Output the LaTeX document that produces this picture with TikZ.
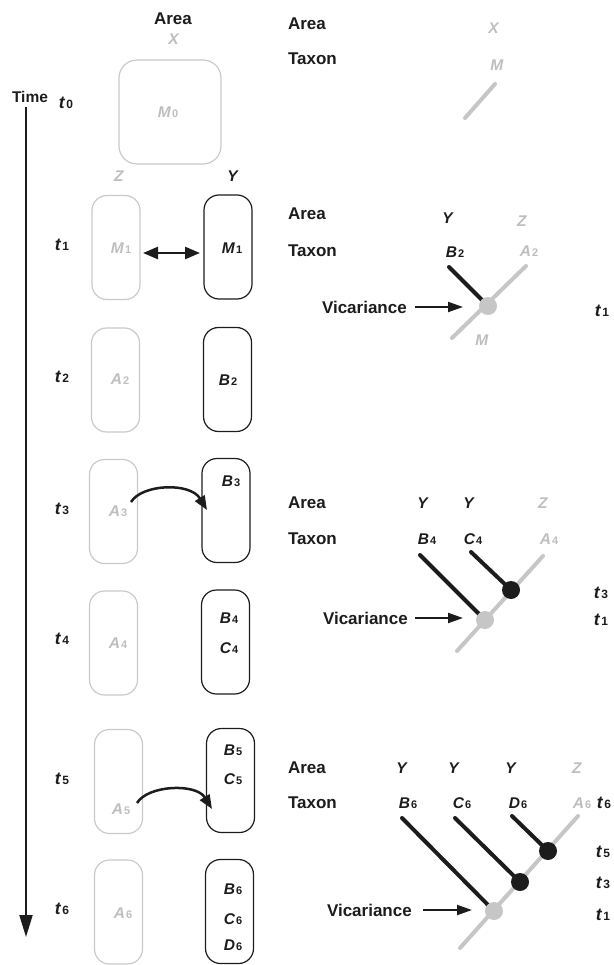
\documentclass[tikz,border=0pt]{standalone}
\usepackage{fontspec}
\setmainfont{Liberation Sans}
\usetikzlibrary{arrows.meta}
\definecolor{lg}{HTML}{CACACA}
\definecolor{gt}{HTML}{BEBEBE}
\definecolor{gl}{HTML}{C6C6C6}
\definecolor{dk}{HTML}{1C1C1C}
\newcommand{\sx}[2]{\textit{#1}\kern1pt{\fontsize{11}{11}\selectfont\upshape #2}}
\newcommand{\tlab}[1]{{\fontsize{17.5}{17.5}\selectfont\textit{t}}\kern1pt{\fontsize{12}{12}\selectfont\upshape #1}}
\begin{document}
\begin{tikzpicture}[x=1pt,y=-1pt,
  every node/.style={inner sep=0pt, outer sep=0pt},
  box/.style={draw, rounded corners=15pt, minimum width=48pt, minimum height=104pt, line width=1.2pt},
  gbox/.style={box, draw=lg},
  bbox/.style={box, draw=dk},
  head/.style={font=\fontsize{17}{17}\selectfont\bfseries, text=dk},
  hl/.style={head, anchor=west},
  lbl/.style={font=\fontsize{15.5}{15.5}\selectfont\bfseries, text=dk},
  glbl/.style={lbl, text=gt},
  tree/.style={line width=4pt, line cap=round},
  gtree/.style={tree, draw=gl},
  btree/.style={tree, draw=dk},
  gdot/.style={circle, fill=gl, minimum size=18pt},
  bdot/.style={circle, fill=dk, minimum size=18pt},
  vic/.style={draw=dk, line width=2pt, -{Triangle[width=10pt,length=15pt]}},
  jump/.style={draw=dk, line width=2.5pt, -{Triangle[width=11pt,length=14pt]}}
]
\useasboundingbox (0,0) rectangle (613,965);

% ---------- left column ----------
\node[head] (areaL) at (173,19) {Area};
\node[glbl] (xL) at (174,39) {\textit{X}};
\node[gbox, minimum width=102pt, minimum height=104pt, rounded corners=18pt] (b0) at (170,112) {};
\node[glbl] at (168,112) {\sx{M}{0}};
\node[font=\fontsize{15.5}{15.5}\selectfont\bfseries, text=dk] (time) at (30,97) {Time};
\node[lbl] (t0) at (66,103) {\tlab{0}};
\node[glbl] (zL) at (119,176) {\textit{Z}};
\node[lbl] (yL) at (233,176) {\textit{Y}};

% time arrow
\coordinate (ta) at (26,107);
\coordinate (tb) at (26,937);
\draw[draw=dk, line width=2pt, -{Triangle[width=13pt,length=22pt]}] (ta) -- (tb);

% t1
\node[lbl] (t1) at (62,245) {\tlab{1}};
\node[gbox] (l1) at (116,247.5) {};
\node[bbox] (r1) at (228,247) {};
\node[glbl] (m1g) at (121,248) {\sx{M}{1}};
\node[lbl] (m1b) at (232,248) {\sx{M}{1}};
\coordinate (da) at (143,253);
\coordinate (db) at (200,253);
\draw[draw=dk, line width=2.5pt, {Triangle[width=12pt,length=15pt]}-{Triangle[width=12pt,length=15pt]}] (da) -- (db);

% t2
\node[lbl] (t2) at (62,377) {\tlab{2}};
\node[gbox] (l2) at (115.5,380) {};
\node[bbox] (r2) at (227.5,379.5) {};
\node[glbl] at (120,379) {\sx{A}{2}};
\node[lbl] at (228,380) {\sx{B}{2}};

% t3
\node[lbl] (t3) at (62,509) {\tlab{3}};
\node[gbox] (l3) at (113.5,511.5) {};
\node[bbox] (r3) at (226,510.5) {};
\node[glbl] (a3) at (118,511) {\sx{A}{3}};
\node[lbl] at (231,481) {\sx{B}{3}};
\coordinate (j3a) at (131,502);
\coordinate (j3b) at (207,510);
\draw[jump] (j3a) .. controls (142,484) and (190,482) .. (j3b);

% t4
\node[lbl] (t4) at (62,639) {\tlab{4}};
\node[gbox] (l4) at (113.5,643) {};
\node[bbox] (r4) at (225.5,642) {};
\node[glbl] at (118,643) {\sx{A}{4}};
\node[lbl] at (229,618) {\sx{B}{4}};
\node[lbl] at (229,648) {\sx{C}{4}};

% t5
\node[lbl] (t5) at (62,779) {\tlab{5}};
\node[gbox] (l5) at (118.5,781.5) {};
\node[bbox] (r5) at (230.5,780.5) {};
\node[glbl] (a5) at (121,809) {\sx{A}{5}};
\node[lbl] at (233,750) {\sx{B}{5}};
\node[lbl] at (233,779) {\sx{C}{5}};
\coordinate (j5a) at (137,803);
\coordinate (j5b) at (212,809);
\draw[jump] (j5a) .. controls (148,785) and (196,783) .. (j5b);

% t6
\node[lbl] (t6) at (62,909) {\tlab{6}};
\node[gbox] (l6) at (118.5,912) {};
\node[bbox] (r6) at (229.5,911.5) {};
\node[glbl] at (123,913) {\sx{A}{6}};
\node[lbl] at (233,889) {\sx{B}{6}};
\node[lbl] at (233,919) {\sx{C}{6}};
\node[lbl] at (233,945) {\sx{D}{6}};

% ---------- tree 0 ----------
\node[hl] (ar0) at (288,24) {Area};
\node[hl] (tx0) at (288,59) {Taxon};
\node[glbl] at (494,28) {\textit{X}};
\node[glbl] at (497,65) {\textit{M}};
\coordinate (g0a) at (495,84);
\coordinate (g0b) at (465,118);
\draw[gtree] (g0a) -- (g0b);

% ---------- tree 1 ----------
\node[hl] (ar1) at (288,214) {Area};
\node[hl] (tx1) at (288,251) {Taxon};
\node[lbl] at (448,218) {\textit{Y}};
\node[glbl] at (522,221) {\textit{Z}};
\node[lbl] at (455,252) {\sx{B}{2}};
\node[glbl] at (529,251) {\sx{A}{2}};
\coordinate (g1a) at (526,266);
\coordinate (g1b) at (452,338);
\coordinate (c1) at (488,306);
\coordinate (k1) at (449,267);
\draw[gtree] (g1a) -- (g1b);
\draw[btree] (k1) -- (c1);
\node[gdot] (v1) at (c1) {};
\node[glbl] at (482,340) {\textit{M}};
\node[hl] (vt1) at (322,307) {Vicariance};
\coordinate (va1) at (415,307);
\coordinate (vb1) at (463,307);
\draw[vic] (va1) -- (vb1);
\node[lbl] at (602,311) {\tlab{1}};

% ---------- tree 2 ----------
\node[hl] (ar2) at (288,503) {Area};
\node[hl] (tx2) at (288,539) {Taxon};
\node[lbl] at (423,503) {\textit{Y}};
\node[lbl] at (469,503) {\textit{Y}};
\node[glbl] at (543,503) {\textit{Z}};
\node[lbl] at (427,539) {\sx{B}{4}};
\node[lbl] at (473,539) {\sx{C}{4}};
\node[glbl] at (549,539) {\sx{A}{4}};
\coordinate (g2a) at (543,556);
\coordinate (g2b) at (457,651);
\coordinate (c2a) at (485,620);
\coordinate (c2b) at (511,590);
\coordinate (k2a) at (420,555);
\coordinate (k2b) at (471,552);
\draw[gtree] (g2a) -- (g2b);
\draw[btree] (k2a) -- (c2a);
\draw[btree] (k2b) -- (c2b);
\node[gdot] (v2) at (c2a) {};
\node[bdot] (d2) at (c2b) {};
\node[hl] (vt2) at (323,618) {Vicariance};
\coordinate (va2) at (415,618);
\coordinate (vb2) at (463,618);
\draw[vic] (va2) -- (vb2);
\node[lbl] at (601,593) {\tlab{3}};
\node[lbl] at (601,620) {\tlab{1}};

% ---------- tree 3 ----------
\node[hl] (ar3) at (288,768) {Area};
\node[hl] (tx3) at (288,803) {Taxon};
\node[lbl] at (402,768) {\textit{Y}};
\node[lbl] at (454,768) {\textit{Y}};
\node[lbl] at (511,768) {\textit{Y}};
\node[glbl] at (577,768) {\textit{Z}};
\node[lbl] at (408,803) {\sx{B}{6}};
\node[lbl] at (462,803) {\sx{C}{6}};
\node[lbl] at (518,803) {\sx{D}{6}};
\node[glbl] at (582,803) {\sx{A}{6}};
\node[lbl] at (604,803) {\tlab{6}};
\coordinate (g3a) at (578,816);
\coordinate (g3b) at (460,948);
\coordinate (c3a) at (494,911);
\coordinate (c3b) at (520,882);
\coordinate (c3c) at (548,851);
\coordinate (k3a) at (402,818);
\coordinate (k3b) at (455,818);
\coordinate (k3c) at (512,816);
\draw[gtree] (g3a) -- (g3b);
\draw[btree] (k3a) -- (c3a);
\draw[btree] (k3b) -- (c3b);
\draw[btree] (k3c) -- (c3c);
\node[gdot] (v3) at (c3a) {};
\node[bdot] (d3a) at (c3b) {};
\node[bdot] (d3b) at (c3c) {};
\node[hl] (vt3) at (327,910) {Vicariance};
\coordinate (va3) at (423,910);
\coordinate (vb3) at (472,910);
\draw[vic] (va3) -- (vb3);
\node[lbl] at (603,852) {\tlab{5}};
\node[lbl] at (603,883) {\tlab{3}};
\node[lbl] at (603,915) {\tlab{1}};
\end{tikzpicture}
\end{document}
